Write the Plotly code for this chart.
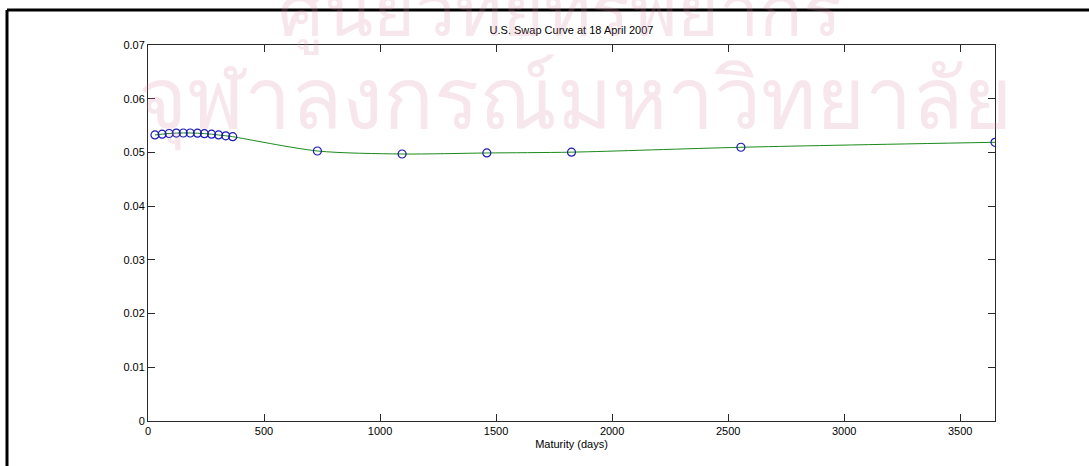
import plotly.graph_objects as go

# Data
maturity_days = [30, 61, 91, 122, 152, 182, 213, 243, 274, 304, 335, 365,
                 730, 1095, 1460, 1825, 2555, 3650]
swap_rates = [0.05325, 0.05340, 0.05352, 0.05360, 0.05362, 0.05362, 0.05358,
              0.05350, 0.05340, 0.05325, 0.05310, 0.05293,
              0.05027, 0.04971, 0.04990, 0.05005, 0.05096, 0.05189]

x_ticks = [0, 500, 1000, 1500, 2000, 2500, 3000, 3500]
y_ticks = [0, 0.01, 0.02, 0.03, 0.04, 0.05, 0.06, 0.07]
y_tick_text = ["0", "0.01", "0.02", "0.03", "0.04", "0.05", "0.06", "0.07"]

W, H = 1089, 466
L, R, T, B = 148, 94, 45, 45
pw, ph = W - L - R, H - T - B

def px(xp):
    return (xp - L) / pw

def py(yp):
    return (H - B - yp) / ph

FONT = "Liberation Sans, Arial, sans-serif"

fig = go.Figure()
fig.add_trace(go.Scatter(
    x=maturity_days, y=swap_rates, mode="lines",
    line=dict(color="#1a8a1a", width=1, shape="spline", smoothing=0.8),
    hoverinfo="skip", showlegend=False))
fig.add_trace(go.Scatter(
    x=maturity_days, y=swap_rates, mode="markers",
    marker=dict(symbol="circle-open", size=8, color="#1c1cb4",
                line=dict(width=1.2, color="#1c1cb4")),
    showlegend=False))

# faint watermark text of the scanned page
fig.add_annotation(text="จุฬาลงกรณ์มหาวิทยาลัย", xref="paper", yref="paper",
                   x=px(575), y=py(95), xanchor="center", yanchor="middle",
                   showarrow=False, opacity=0.2,
                   font=dict(size=84, color="#d98aa8", family="Noto Sans, DejaVu Sans, sans-serif"))
fig.add_annotation(text="ศูนย์วิทยทรัพยากร", xref="paper", yref="paper",
                   x=px(560), y=py(8), xanchor="center", yanchor="middle",
                   showarrow=False, opacity=0.2,
                   font=dict(size=72, color="#d98aa8", family="Noto Sans, DejaVu Sans, sans-serif"))

# page frame lines
fig.add_shape(type="line", xref="paper", yref="paper",
              x0=px(7), x1=px(W + 5), y0=py(10), y1=py(10),
              line=dict(color="black", width=3))
fig.add_shape(type="line", xref="paper", yref="paper",
              x0=px(7), x1=px(7), y0=py(10), y1=py(H + 5),
              line=dict(color="black", width=3))

axis_common = dict(showline=True, linecolor="#2a2a2a", linewidth=1, mirror="ticks",
                   ticks="inside", ticklen=7, tickcolor="#2a2a2a", showgrid=False,
                   zeroline=False, tickfont=dict(family=FONT, size=11, color="black"))

fig.update_layout(
    width=W, height=H, margin=dict(l=L, r=R, t=T, b=B),
    paper_bgcolor="white", plot_bgcolor="rgba(0,0,0,0)",
    title=dict(text="U.S. Swap Curve at 18 April 2007", x=px(571.5), xanchor="center",
               xref="paper", y=1 - 30 / H, yanchor="middle",
               font=dict(family=FONT, size=11, color="black")),
    xaxis=dict(range=[0, 3650], tickvals=x_ticks, **axis_common,
               title=dict(text="Maturity (days)", standoff=4,
                          font=dict(family=FONT, size=11, color="black"))),
    yaxis=dict(range=[0, 0.07], tickvals=y_ticks, ticktext=y_tick_text, **axis_common),
    showlegend=False,
)

fig.write_html("out.html")
